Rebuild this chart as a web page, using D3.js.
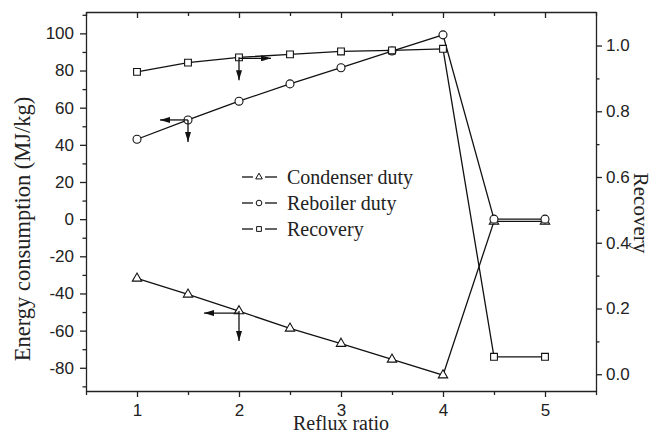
<!DOCTYPE html>
<html>
<head>
<meta charset="utf-8">
<script src="https://cdn.jsdelivr.net/npm/d3@7"></script>
<style>
	body { margin: 0; background: #fff; }
	.tick text { font-family: "Liberation Sans", Arial, sans-serif; font-size: 17px; fill: #222; }
	.axis path, .axis line { stroke: #222; stroke-width: 1.3; }
	.title-text { font-family: "Liberation Serif", "Times New Roman", serif; font-size: 20px; fill: #222; }
</style>
</head>
<body>
<div id="chart"></div>
<script>

///////////////////////////////////////////////////////////////////////////
//////////////////////////////// The data /////////////////////////////////
///////////////////////////////////////////////////////////////////////////

var refluxRatio = [1, 1.5, 2, 2.5, 3, 3.5, 4, 4.5, 5];
var condenserDuty = [-31.9, -40.5, -49.5, -58.8, -67, -75.5, -84, -1.2, -1.2];
var reboilerDuty = [43, 53.4, 63.5, 72.8, 81.5, 90.5, 99.2, 0, 0];
var recovery = [0.92, 0.948, 0.964, 0.973, 0.982, 0.985, 0.99, 0.053, 0.053];

var xTicks = [1, 2, 3, 4, 5],
	xMinorTicks = [0.5, 1.5, 2.5, 3.5, 4.5, 5.5],
	leftTicks = [-80, -60, -40, -20, 0, 20, 40, 60, 80, 100],
	leftMinorTicks = [-90, -70, -50, -30, -10, 10, 30, 50, 70, 90, 110],
	rightTicks = [0, 0.2, 0.4, 0.6, 0.8, 1.0],
	rightMinorTicks = [0.1, 0.3, 0.5, 0.7, 0.9];

var legendNames = ["Condenser duty", "Reboiler duty", "Recovery"];

///////////////////////////////////////////////////////////////////////////
//////////////////////////// Set up the SVG ///////////////////////////////
///////////////////////////////////////////////////////////////////////////

var margin = {top: 12, right: 58, bottom: 43, left: 86};
var width = 654 - margin.left - margin.right,
	height = 434 - margin.top - margin.bottom;

var svg = d3.select("#chart")
	.append("svg")
	.attr("width", width + margin.left + margin.right)
	.attr("height", height + margin.top + margin.bottom)
	.append("g")
	.attr("transform", "translate(" + margin.left + "," + margin.top + ")");

var x = d3.scaleLinear().domain([0.5, 5.5]).range([0, width]);
var yLeft = d3.scaleLinear().domain([-92.5, 111.5]).range([height, 0]);
var yRight = d3.scaleLinear().domain([-0.051, 1.102]).range([height, 0]);

//Arrow head for the annotation arrows
svg.append("defs").append("marker")
	.attr("id", "arrow-head")
	.attr("viewBox", "0 0 10 6")
	.attr("refX", 10)
	.attr("refY", 3)
	.attr("markerUnits", "userSpaceOnUse")
	.attr("markerWidth", 11)
	.attr("markerHeight", 6)
	.attr("orient", "auto")
	.append("path")
	.attr("d", "M0,0 L10,3 L0,6 Z")
	.style("fill", "#111");

///////////////////////////////////////////////////////////////////////////
////////////////////////////// The axes ///////////////////////////////////
///////////////////////////////////////////////////////////////////////////

function addAxis(axis, transform, minor) {
	var g = svg.append("g").attr("class", "axis").attr("transform", transform).call(axis);
	if(minor) g.select(".domain").remove();
	return g;
}

var bottomT = "translate(0," + height + ")",
	rightT = "translate(" + width + ",0)";

//Bottom
addAxis(d3.axisBottom(x).tickValues(xTicks).tickSize(6).tickSizeOuter(0).tickPadding(7).tickFormat(function(d) { return d; }), bottomT);
addAxis(d3.axisBottom(x).tickValues(xMinorTicks).tickSize(4).tickFormat(""), bottomT, true);
//Top, ticks inside
addAxis(d3.axisTop(x).tickValues(xTicks).tickSize(-6).tickSizeOuter(0).tickFormat(""), null);
addAxis(d3.axisTop(x).tickValues(xMinorTicks).tickSize(-4).tickFormat(""), null, true);
//Left
addAxis(d3.axisLeft(yLeft).tickValues(leftTicks).tickSize(6).tickSizeOuter(0).tickPadding(6).tickFormat(function(d) { return String(d); }), null);
addAxis(d3.axisLeft(yLeft).tickValues(leftMinorTicks).tickSize(3.5).tickFormat(""), null, true);
//Right
addAxis(d3.axisRight(yRight).tickValues(rightTicks).tickSize(6).tickSizeOuter(0).tickPadding(4).tickFormat(d3.format(".1f")), rightT);
addAxis(d3.axisRight(yRight).tickValues(rightMinorTicks).tickSize(3.5).tickFormat(""), rightT, true);

//Axis titles
svg.append("text")
	.attr("class", "title-text")
	.attr("transform", "translate(" + (22 - margin.left) + "," + (229 - margin.top) + ") rotate(-90)")
	.attr("text-anchor", "middle")
	.attr("dy", "0.35em")
	.style("font-size", "22.5px")
	.text("Energy consumption (MJ/kg)");

svg.append("text")
	.attr("class", "title-text")
	.attr("transform", "translate(" + (641 - margin.left) + "," + (213 - margin.top) + ") rotate(90)")
	.attr("text-anchor", "middle")
	.attr("dy", "0.35em")
	.style("font-size", "21px")
	.text("Recovery");

svg.append("text")
	.attr("class", "title-text")
	.attr("x", width / 2)
	.attr("y", 430 - margin.top)
	.attr("text-anchor", "middle")
	.text("Reflux ratio");

///////////////////////////////////////////////////////////////////////////
/////////////////////////// Lines and markers /////////////////////////////
///////////////////////////////////////////////////////////////////////////

var series = [
	{name: legendNames[0], values: condenserDuty, y: yLeft, symbol: d3.symbolTriangle, size: 38},
	{name: legendNames[1], values: reboilerDuty, y: yLeft, symbol: d3.symbolCircle, size: 50},
	{name: legendNames[2], values: recovery, y: yRight, symbol: d3.symbolSquare, size: 46}
];

series.forEach(function(s) {
	var pts = refluxRatio.map(function(r, i) { return [x(r), s.y(s.values[i])]; });

	svg.append("path")
		.datum(pts)
		.attr("d", d3.line())
		.style("fill", "none")
		.style("stroke", "#111")
		.style("stroke-width", 1.3);

	svg.selectAll(null)
		.data(pts)
		.enter().append("path")
		.attr("transform", function(d) { return "translate(" + d[0] + "," + d[1] + ")"; })
		.attr("d", d3.symbol().type(s.symbol).size(s.size))
		.style("fill", "#fff")
		.style("stroke", "#111")
		.style("stroke-width", 1.1);
});

///////////////////////////////////////////////////////////////////////////
/////////////////////////// Annotation arrows /////////////////////////////
///////////////////////////////////////////////////////////////////////////

//Which axis each line belongs to: arrows start from a data point
var arrows = [
	{s: 2, i: 2, dx: 32, dy: 1},
	{s: 2, i: 2, dx: 0, dy: 23},
	{s: 1, i: 1, dx: -28, dy: 0},
	{s: 1, i: 1, dx: 0, dy: 22},
	{s: 0, i: 2, dx: -35, dy: 2},
	{s: 0, i: 2, dx: 0, dy: 30}
];

svg.selectAll(null)
	.data(arrows)
	.enter().append("line")
	.attr("x1", function(d) { return x(refluxRatio[d.i]); })
	.attr("y1", function(d) { return series[d.s].y(series[d.s].values[d.i]) + (d.dx ? d.dy : 0); })
	.attr("x2", function(d) { return x(refluxRatio[d.i]) + d.dx; })
	.attr("y2", function(d) { return series[d.s].y(series[d.s].values[d.i]) + d.dy; })
	.style("stroke", "#111")
	.style("stroke-width", 1.3)
	.attr("marker-end", "url(#arrow-head)");

///////////////////////////////////////////////////////////////////////////
//////////////////////////////// Legend ///////////////////////////////////
///////////////////////////////////////////////////////////////////////////

var legend = svg.selectAll(".legend")
	.data(series)
	.enter().append("g")
	.attr("class", "legend")
	.attr("transform", function(d, i) { return "translate(" + (242 - margin.left) + "," + (177 + i * 26 - margin.top) + ")"; });

legend.append("line").attr("x1", 0).attr("x2", 11);
legend.append("line").attr("x1", 23).attr("x2", 35);
legend.selectAll("line").style("stroke", "#111").style("stroke-width", 1.3);

legend.append("path")
	.attr("transform", "translate(17,0)")
	.attr("d", function(d) { return d3.symbol().type(d.symbol).size(d.size * 0.5)(); })
	.style("fill", "#fff")
	.style("stroke", "#111")
	.style("stroke-width", 1);

legend.append("text")
	.attr("class", "title-text")
	.attr("x", 45)
	.attr("dy", "0.35em")
	.text(function(d) { return d.name; });

</script>
</body>
</html>
